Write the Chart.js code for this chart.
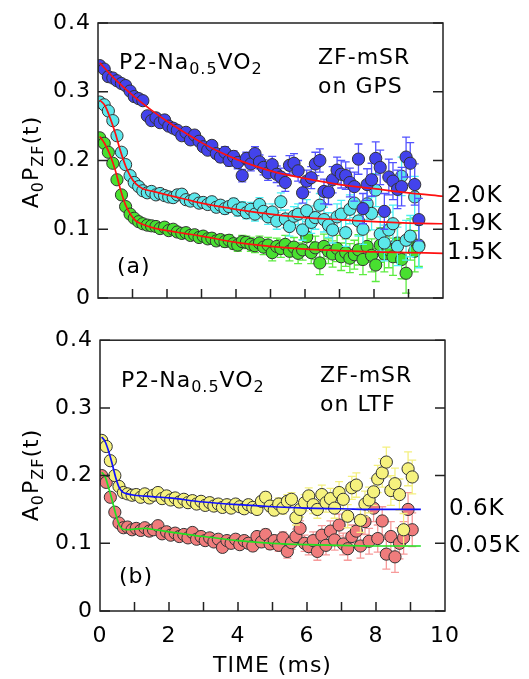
<!DOCTYPE html>
<html>
<head>
<meta charset="utf-8">
<script src="https://cdn.jsdelivr.net/npm/chart.js@4.4.0/dist/chart.umd.min.js"></script>
<style>
  body { margin: 0; background: #fff; width: 529px; height: 679px; overflow: hidden; position: relative; }
  canvas { position: absolute; left: 0; }
  #ca { top: 0; }
  #cb { top: 320px; }
</style>
</head>
<body>
<canvas id="ca" width="529" height="320"></canvas>
<canvas id="cb" width="529" height="359"></canvas>
<script>
// ---- panel (a): ZF-muSR on GPS ----
const time_a = [0.05,0.18,0.30,0.43,0.55,0.68,0.80,0.93,1.05,1.18,1.30,1.43,1.55,1.68,1.80,1.93,2.05,2.18,2.30,2.43,2.55,2.68,2.80,2.93,3.05,3.18,3.30,3.43,3.55,3.68,3.80,3.93,4.05,4.18,4.30,4.43,4.55,4.68,4.80,4.93,5.05,5.18,5.30,5.43,5.55,5.68,5.80,5.93,6.05,6.18,6.30,6.43,6.55,6.68,6.80,6.93,7.05,7.18,7.30,7.43,7.55,7.68,7.80,7.93,8.05,8.18,8.30,8.43,8.55,8.68,8.80,8.93,9.05,9.18,9.30];
const k20 = [0.338,0.333,0.322,0.320,0.316,0.312,0.309,0.301,0.293,0.290,
  0.287,0.265,0.258,0.262,0.255,0.259,0.250,0.247,0.244,0.236,
  0.241,0.230,0.237,0.228,0.220,0.215,0.222,0.210,0.205,0.212,
  0.200,0.206,0.197,0.178,0.203,0.195,0.210,0.198,0.190,0.182,
  0.194,0.180,0.176,0.168,0.193,0.196,0.185,0.153,0.170,0.175,
  0.195,0.200,0.155,0.154,0.172,0.186,0.180,0.178,0.168,0.162,
  0.202,0.130,0.165,0.172,0.203,0.190,0.126,0.176,0.170,0.158,
  0.162,0.205,0.196,0.165,0.114];
const k19 = [0.285,0.281,0.272,0.258,0.236,0.212,0.194,0.178,0.168,0.162,
  0.156,0.153,0.155,0.150,0.152,0.149,0.147,0.146,0.150,0.151,
  0.143,0.141,0.144,0.138,0.139,0.136,0.140,0.132,0.135,0.130,
  0.133,0.137,0.128,0.131,0.124,0.129,0.122,0.136,0.126,0.118,
  0.125,0.112,0.140,0.115,0.104,0.119,0.122,0.099,0.127,0.110,
  0.117,0.135,0.114,0.106,0.099,0.118,0.122,0.095,0.129,0.138,
  0.112,0.100,0.137,0.123,0.157,0.093,0.080,0.099,0.108,0.075,
  0.177,0.084,0.090,0.147,0.075];
const k15 = [0.233,0.225,0.212,0.196,0.172,0.150,0.133,0.122,0.116,0.111,
  0.108,0.106,0.105,0.104,0.101,0.103,0.098,0.100,0.096,0.094,
  0.095,0.091,0.092,0.088,0.090,0.086,0.087,0.083,0.085,0.082,
  0.084,0.079,0.077,0.082,0.081,0.078,0.076,0.080,0.074,0.077,
  0.066,0.075,0.072,0.078,0.068,0.074,0.065,0.070,0.089,0.066,
  0.073,0.051,0.075,0.068,0.064,0.072,0.060,0.066,0.058,0.063,
  0.070,0.056,0.075,0.062,0.048,0.077,0.064,0.070,0.060,0.080,
  0.056,0.036,0.085,0.068,0.077];
const err_a = [0.001,0.001,0.001,0.002,0.002,0.002,0.002,0.002,0.002,0.003,
  0.003,0.003,0.003,0.003,0.004,0.004,0.004,0.004,0.005,0.005,
  0.005,0.005,0.006,0.006,0.006,0.006,0.007,0.007,0.007,0.008,
  0.008,0.008,0.009,0.009,0.009,0.010,0.010,0.010,0.011,0.011,
  0.012,0.012,0.013,0.013,0.014,0.014,0.015,0.015,0.016,0.016,
  0.017,0.017,0.018,0.018,0.019,0.019,0.020,0.020,0.021,0.021,
  0.022,0.022,0.023,0.024,0.024,0.025,0.026,0.026,0.027,0.028,
  0.028,0.029,0.030,0.030,0.031];

// fit curves
const fit20_t = [0.05,0.5,1,1.5,2,2.5,3,3.5,4,5,6,7,8,9,10];
const fit20_v = [0.342,0.318,0.295,0.275,0.257,0.241,0.226,0.213,0.202,0.185,0.174,0.165,0.159,0.153,0.148];
const fit19_t = [0.05,0.2,0.35,0.5,0.65,0.8,0.95,1.1,1.3,1.6,2,2.5,3,4,5,6,7,8,9,10];
const fit19_v = [0.288,0.280,0.262,0.240,0.214,0.192,0.176,0.166,0.159,0.155,0.150,0.144,0.138,0.129,0.122,0.117,0.114,0.111,0.109,0.108];
const fit15_t = [0.05,0.2,0.35,0.5,0.65,0.8,0.95,1.1,1.3,1.6,2,2.5,3,4,5,6,7,8,9,10];
const fit15_v = [0.235,0.224,0.208,0.186,0.158,0.135,0.121,0.112,0.107,0.102,0.098,0.094,0.090,0.081,0.075,0.071,0.069,0.067,0.066,0.065];

// ---- panel (b): ZF-muSR on LTF ----
const time_b = [0.05,0.18,0.30,0.43,0.55,0.68,0.80,0.93,1.05,1.18,1.30,1.43,1.55,1.68,1.80,1.93,2.05,2.18,2.30,2.43,2.55,2.68,2.80,2.93,3.05,3.18,3.30,3.43,3.55,3.68,3.80,3.93,4.05,4.18,4.30,4.43,4.55,4.68,4.80,4.93,5.05,5.18,5.30,5.43,5.55,5.68,5.80,5.93,6.05,6.18,6.30,6.43,6.55,6.68,6.80,6.93,7.05,7.18,7.30,7.43,7.55,7.68,7.80,7.93,8.05,8.18,8.30,8.43,8.55,8.68,8.80,8.93,9.05];
const k06 = [0.252,0.243,0.222,0.200,0.184,0.175,0.173,0.171,0.172,0.168,
  0.173,0.167,0.171,0.175,0.166,0.170,0.164,0.167,0.161,0.165,
  0.160,0.163,0.158,0.162,0.156,0.160,0.155,0.158,0.153,0.157,
  0.152,0.158,0.154,0.151,0.157,0.153,0.150,0.162,0.168,0.155,
  0.149,0.158,0.152,0.162,0.165,0.138,0.150,0.160,0.170,0.157,
  0.150,0.172,0.160,0.166,0.152,0.175,0.165,0.140,0.182,0.186,
  0.134,0.158,0.164,0.176,0.195,0.204,0.220,0.178,0.188,0.172,
  0.120,0.210,0.198];
const k005 = [0.200,0.190,0.168,0.146,0.130,0.123,0.124,0.120,0.122,0.119,
  0.123,0.118,0.120,0.126,0.114,0.117,0.112,0.115,0.110,0.113,
  0.108,0.116,0.106,0.110,0.104,0.108,0.102,0.106,0.094,0.104,
  0.100,0.106,0.098,0.104,0.100,0.096,0.110,0.102,0.113,0.099,
  0.104,0.097,0.108,0.088,0.101,0.110,0.122,0.100,0.095,0.104,
  0.088,0.112,0.097,0.118,0.105,0.127,0.099,0.092,0.110,0.118,
  0.096,0.132,0.103,0.152,0.107,0.133,0.084,0.110,0.080,0.100,
  0.108,0.150,0.120];
const err_b = [0.001,0.001,0.001,0.001,0.001,0.001,0.001,0.001,0.001,0.002,
  0.002,0.002,0.002,0.002,0.002,0.002,0.003,0.003,0.003,0.003,
  0.003,0.003,0.004,0.004,0.004,0.004,0.004,0.005,0.005,0.005,
  0.005,0.006,0.006,0.006,0.006,0.007,0.007,0.007,0.008,0.008,
  0.008,0.009,0.009,0.010,0.010,0.011,0.011,0.012,0.012,0.013,
  0.013,0.014,0.014,0.015,0.015,0.016,0.016,0.017,0.017,0.018,
  0.018,0.019,0.019,0.020,0.020,0.021,0.022,0.022,0.023,0.023,
  0.024,0.025,0.025];

const fit06_t = [0.05,0.15,0.25,0.35,0.45,0.55,0.65,0.8,1,1.5,2,3,4,5,6,7,8,9.3];
const fit06_v = [0.257,0.250,0.236,0.218,0.198,0.183,0.176,0.173,0.171,0.169,0.167,0.161,0.157,0.154,0.152,0.151,0.150,0.150];
const fit005_t = [0.05,0.15,0.25,0.35,0.45,0.55,0.65,0.8,1,1.3,1.6,2,3,4,5,6,7,8,9.3];
const fit005_v = [0.205,0.198,0.182,0.164,0.144,0.128,0.121,0.120,0.121,0.122,0.120,0.117,0.110,0.104,0.100,0.098,0.097,0.096,0.096];

const FONT = '"DejaVu Sans", sans-serif';

function pts(times, vals) {
  return times.map((t, i) => ({ x: t, y: vals[i] }));
}

function scatterSet(times, vals, errs, fill, errColor) {
  return {
    data: pts(times, vals),
    err: errs,
    errColor: errColor,
    backgroundColor: fill,
    borderColor: '#333',
    borderWidth: 1,
    pointRadius: 6.1,
    showLine: false,
  };
}

function fitSet(times, vals, color) {
  return {
    data: pts(times, vals),
    borderColor: color,
    borderWidth: 1.7,
    pointRadius: 0,
    showLine: true,
    cubicInterpolationMode: 'monotone',
  };
}

// rich text with subscripts, [text, isSub]
function drawRich(ctx, x, y, parts, size) {
  let cx = x;
  parts.forEach(([txt, sub]) => {
    ctx.font = (sub ? Math.round(size * 0.72) : size) + 'px ' + FONT;
    ctx.fillText(txt, cx, sub ? y + 5 : y);
    cx += ctx.measureText(txt).width;
  });
  return cx - x;
}

function richWidth(ctx, parts, size) {
  let w = 0;
  parts.forEach(([txt, sub]) => {
    ctx.font = (sub ? Math.round(size * 0.72) : size) + 'px ' + FONT;
    w += ctx.measureText(txt).width;
  });
  return w;
}

const errorBars = {
  id: 'errorBars',
  beforeDatasetDraw(chart, args) {
    const ds = chart.data.datasets[args.index];
    if (!ds.err) return;
    const ctx = chart.ctx, ys = chart.scales.y, a = chart.chartArea;
    ctx.save();
    ctx.beginPath();
    ctx.rect(a.left, a.top, a.right - a.left, a.bottom - a.top);
    ctx.clip();
    ctx.strokeStyle = ds.errColor;
    ctx.lineWidth = 1.3;
    args.meta.data.forEach((el, i) => {
      const v = ds.data[i].y, e = ds.err[i];
      const top = ys.getPixelForValue(v + e), bot = ys.getPixelForValue(v - e);
      if (bot - top < 5) return;
      ctx.beginPath();
      ctx.moveTo(el.x, top); ctx.lineTo(el.x, bot);
      ctx.moveTo(el.x - 4, top); ctx.lineTo(el.x + 4, top);
      ctx.moveTo(el.x - 4, bot); ctx.lineTo(el.x + 4, bot);
      ctx.stroke();
    });
    ctx.restore();
  }
};

const frame = {
  id: 'frame',
  beforeDraw(chart) {
    chart.ctx.letterSpacing = '1px';
  },
  afterDraw(chart) {
    const ctx = chart.ctx, a = chart.chartArea, xs = chart.scales.x, ys = chart.scales.y;
    const o = chart.options.plugins.frame;
    ctx.save();
    ctx.strokeStyle = '#222';
    ctx.lineWidth = 1.5;
    ctx.strokeRect(a.left, a.top, a.right - a.left, a.bottom - a.top);
    ctx.beginPath();
    ys.ticks.forEach(t => {
      const y = ys.getPixelForValue(t.value);
      ctx.moveTo(a.left, y); ctx.lineTo(a.left + 10, y);
      ctx.moveTo(a.right, y); ctx.lineTo(a.right - 10, y);
    });
    for (let t = 1; t < 10; t++) {
      const x = xs.getPixelForValue(t);
      ctx.moveTo(x, a.bottom); ctx.lineTo(x, a.bottom - 9);
    }
    ctx.stroke();

    ctx.fillStyle = '#000';
    ctx.letterSpacing = '1px';
    ctx.textBaseline = 'alphabetic';
    ctx.textAlign = 'left';
    // sample name
    drawRich(ctx, a.left + 21, a.top + o.nameY, [['P2-Na', 0], ['0.5', 1], ['VO', 0], ['2', 1]], 22);
    // instrument
    ctx.font = '22px ' + FONT;
    ctx.fillText('ZF-mSR', a.left + 220, a.top + o.nameY - 5);
    ctx.fillText(o.inst, a.left + 220, a.top + o.nameY + 24);
    // panel letter
    ctx.textBaseline = 'middle';
    ctx.fillText(o.letter, a.left + 19, o.letterY);
    // temperatures
    ctx.font = '23px ' + FONT;
    o.temps.forEach(([txt, v]) => {
      ctx.fillText(txt, a.right + 4, ys.getPixelForValue(v));
    });
    // y-axis title
    ctx.textBaseline = 'alphabetic';
    const parts = [['A', 0], ['0', 1], ['P', 0], ['ZF', 1], ['(t)', 0]];
    const w = richWidth(ctx, parts, 22);
    ctx.translate(38, o.titleY);
    ctx.rotate(-Math.PI / 2);
    drawRich(ctx, -w / 2, 0, parts, 22);
    ctx.restore();
  }
};

function makePanel(id, datasets, o) {
  new Chart(document.getElementById(id), {
    type: 'scatter',
    data: { datasets: datasets },
    plugins: [errorBars, frame],
    options: {
      responsive: false,
      animation: false,
      layout: { padding: { left: 0, right: o.padRight, top: o.padTop, bottom: 0 } },
      plugins: {
        legend: { display: false },
        tooltip: { enabled: false },
        frame: o,
      },
      scales: {
        x: {
          type: 'linear',
          min: 0,
          max: 10,
          grid: { display: false, drawTicks: false },
          border: { display: false },
          ticks: {
            display: o.xLabels,
            stepSize: 2,
            padding: 12,
            color: '#000',
            font: { family: FONT, size: 22 },
          },
          title: {
            display: o.xLabels,
            text: 'TIME (ms)',
            color: '#000',
            padding: { top: 0, bottom: 0 },
            font: { family: FONT, size: 22 },
          },
          afterFit(s) { s.height = o.xHeight; },
        },
        y: {
          min: 0,
          max: 0.4,
          grid: { display: false, drawTicks: false },
          border: { display: false },
          ticks: {
            stepSize: 0.1,
            padding: 7,
            color: '#000',
            font: { family: FONT, size: 22 },
            callback: v => (Math.abs(v) < 1e-9 ? '0' : v.toFixed(1)),
          },
          afterFit(s) { s.width = o.yWidth; },
        },
      },
    },
  });
}

makePanel('ca', [
  fitSet(fit20_t, fit20_v, '#ff1010'),
  fitSet(fit19_t, fit19_v, '#ff1010'),
  fitSet(fit15_t, fit15_v, '#ff1010'),
  scatterSet(time_a, k20, err_a, '#4343ec', '#5252ff'),
  scatterSet(time_a, k19, err_a, '#5ce8ec', '#4cf0f4'),
  scatterSet(time_a, k15, err_a, '#48e030', '#5cec40'),
], {
  padTop: 23, padRight: 86, yWidth: 98, xHeight: 22, xLabels: false,
  nameY: 46, inst: 'on GPS', letter: '(a)', letterY: 267, titleY: 162,
  temps: [['2.0K', 0.148], ['1.9K', 0.108], ['1.5K', 0.065]],
});

makePanel('cb', [
  fitSet(fit06_t, fit06_v, '#1010ff'),
  fitSet(fit005_t, fit005_v, '#22e022'),
  scatterSet(time_b, k06, err_b, '#f6f27e', '#f4f080'),
  scatterSet(time_b, k005, err_b, '#f07c7c', '#f79a9a'),
], {
  padTop: 16, padRight: 84, yWidth: 100, xHeight: 68, xLabels: true,
  nameY: 47, inst: 'on LTF', letter: '(b)', letterY: 257, titleY: 155,
  temps: [['0.6K', 0.150], ['0.05K', 0.096]],
});
</script>
</body>
</html>
